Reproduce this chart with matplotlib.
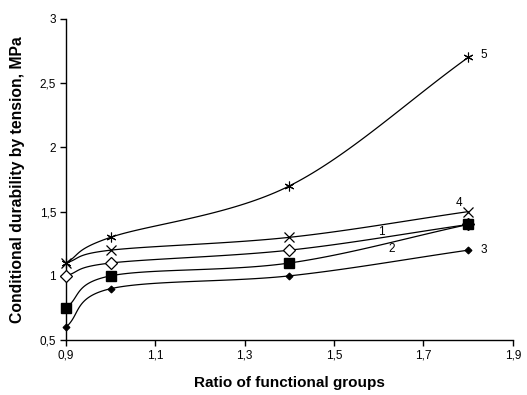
import numpy as np
import matplotlib
matplotlib.use("Agg")
import matplotlib.pyplot as plt

plt.rcParams['font.family'] = ['Liberation Sans', 'DejaVu Sans']

x = [0.9, 1.0, 1.4, 1.8]
s5 = [1.1, 1.3, 1.7, 2.7]
s4 = [1.1, 1.2, 1.3, 1.5]
s1 = [1.0, 1.1, 1.2, 1.4]
s2 = [0.75, 1.0, 1.1, 1.4]
s3 = [0.6, 0.9, 1.0, 1.2]
labels = ['5', '4', '1', '2', '3']
label_pos = [(1.835, 2.72), (1.78, 1.57), (1.607, 1.34), (1.63, 1.21), (1.835, 1.2)]
xticks = [0.9, 1.1, 1.3, 1.5, 1.7, 1.9]
yticks = [0.5, 1, 1.5, 2, 2.5, 3]


def smooth(xs, ys, n=40):
    xs = np.asarray(xs, float); ys = np.asarray(ys, float)
    px = np.concatenate([[2 * xs[0] - xs[1]], xs, [2 * xs[-1] - xs[-2]]])
    py = np.concatenate([[2 * ys[0] - ys[1]], ys, [2 * ys[-1] - ys[-2]]])
    ox, oy = [], []
    for i in range(1, len(px) - 2):
        p0, p1, p2, p3 = [np.array([px[j], py[j]]) for j in (i - 1, i, i + 1, i + 2)]
        c1 = p1 + (p2 - p0) / 6
        c2 = p2 - (p3 - p1) / 6
        t = np.linspace(0, 1, n)[:, None]
        b = (1 - t) ** 3 * p1 + 3 * (1 - t) ** 2 * t * c1 + 3 * (1 - t) * t ** 2 * c2 + t ** 3 * p2
        ox.extend(b[:, 0]); oy.extend(b[:, 1])
    return ox, oy


fig = plt.figure(figsize=(5.27, 3.95), dpi=100)
ax = fig.add_axes([0.125, 0.139, 0.848, 0.813])

series = [s5, s4, s1, s2, s3]
markers = [dict(marker=(6, 2, 0), ms=7, mfc='black', mec='black', mew=0.8),
           dict(marker='x', ms=6.5, mfc='black', mec='black', mew=0.9),
           dict(marker='D', ms=6, mfc='white', mec='black', mew=0.9),
           dict(marker='s', ms=7.5, mfc='black', mec='black', mew=1.0),
           dict(marker='D', ms=3.5, mfc='black', mec='black', mew=0.8)]
for ys, mk in zip(series, markers):
    sx, sy = smooth(x, ys)
    ax.plot(sx, sy, color='black', lw=0.9, zorder=2)
    ax.plot(x, ys, ls='none', zorder=3, clip_on=False, **mk)

for lab, (lx, ly) in zip(labels, label_pos):
    ax.text(lx, ly, lab, fontsize=8.5, ha='center', va='center', color='black')

ax.set_xlim(0.9, 1.9)
ax.set_ylim(0.5, 3)
ax.set_xticks(xticks)
ax.set_yticks(yticks)
ax.set_xticklabels([f"{v:g}".replace('.', ',') for v in xticks])
ax.set_yticklabels([f"{v:g}".replace('.', ',') for v in yticks])
for sp in ['top', 'right']:
    ax.spines[sp].set_visible(False)
for sp in ['left', 'bottom']:
    ax.spines[sp].set_linewidth(1.0)
ax.tick_params(direction='out', length=4, width=1.0, labelsize=8.5, pad=3)
ax.set_xlabel('Ratio of functional groups', fontsize=11, fontweight='bold')
ax.set_ylabel('Conditional durability by tension, MPa', fontsize=11.3, fontweight='bold')
ax.xaxis.set_label_coords(0.5, -0.112)
ax.yaxis.set_label_coords(-0.092, 0.5)

fig.savefig('out.png', dpi=100)
